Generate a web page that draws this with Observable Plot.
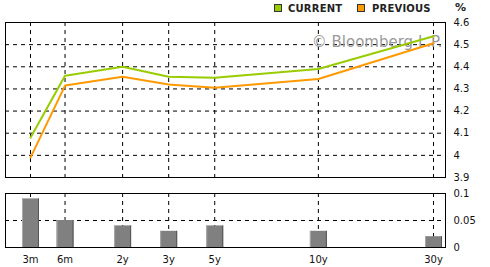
<!DOCTYPE html>
<html>
<head>
<meta charset="utf-8">
<script src="https://cdn.jsdelivr.net/npm/d3@7"></script>
<script src="https://cdn.jsdelivr.net/npm/@observablehq/plot@0.6"></script>
<style>
  html, body { margin: 0; padding: 0; background: #fff; }
  #wrap { position: relative; width: 490px; height: 267px; overflow: hidden; font-family: "DejaVu Sans", sans-serif; }
  #top, #bottom { position: absolute; left: 0; }
  #top { top: 0; }
  #bottom { top: 185px; }
  .sw { position: absolute; width: 6px; height: 6px; border: 1px solid #333; top: 4px; }
  .lg { position: absolute; top: 4px; font: bold 10px/10px "DejaVu Sans", sans-serif; color: #222; letter-spacing: 0.2px; }
  #pct { position: absolute; left: 455px; top: 2px; font: bold 11px/11px "DejaVu Sans", sans-serif; color: #222; }
</style>
</head>
<body>
<div id="wrap">
  <div id="top"></div>
  <div id="bottom"></div>
  <div class="sw" style="left:274px;background:#99cc00"></div>
  <div class="lg" style="left:288px">CURRENT</div>
  <div class="sw" style="left:357px;background:#ff9900"></div>
  <div class="lg" style="left:372px">PREVIOUS</div>
  <div id="pct">%</div>
</div>
<script>
const tenors = ["3m", "6m", "2y", "3y", "5y", "10y", "30y"];
const slots = [0, 3, 8, 12, 16, 25, 35];
const current = [4.08, 4.36, 4.40, 4.355, 4.35, 4.39, 4.538];
const previous = [3.99, 4.315, 4.355, 4.32, 4.305, 4.345, 4.506];
const change = [0.09, 0.05, 0.04, 0.03, 0.04, 0.03, 0.02];
const yTicksTop = [3.9, 4.0, 4.1, 4.2, 4.3, 4.4, 4.5, 4.6];
const yTicksBottom = [0, 0.05, 0.1];
const watermark = "© Bloomberg L.P.";

const rows = tenors.map((t, i) => ({tenor: t, slot: slots[i], current: current[i], previous: previous[i], change: change[i]}));
const xDomain = [-2.17, 36.04];
const green = "#99cc00", orange = "#ff9900";
const dash = "4,4";
const tfmt = d => { const i = slots.indexOf(d); return i >= 0 ? tenors[i] : ""; };

const topPlot = Plot.plot({
  width: 490, height: 185,
  marginLeft: 5, marginRight: 45, marginTop: 22, marginBottom: 8,
  style: {fontFamily: "DejaVu Sans, sans-serif", fontSize: "10px", color: "#111", background: "transparent", overflow: "visible"},
  x: {type: "linear", domain: xDomain, axis: null},
  y: {domain: [3.9, 4.6], axis: null},
  marks: [
    Plot.ruleY(yTicksTop.slice(1, -1), {stroke: "black", strokeDasharray: dash, strokeOpacity: 1}),
    Plot.ruleX(slots, {stroke: "black", strokeDasharray: dash, strokeOpacity: 1}),
    Plot.text([watermark], {frameAnchor: "top-right", dx: -3, dy: 14, text: d => d, fill: "#999", fontSize: 15, fontFamily: "DejaVu Sans, sans-serif"}),
    Plot.line(rows, {x: "slot", y: "previous", stroke: orange, strokeWidth: 2, strokeLinejoin: "miter"}),
    Plot.line(rows, {x: "slot", y: "current", stroke: green, strokeWidth: 2, strokeLinejoin: "miter"}),
    Plot.axisY({anchor: "right", ticks: yTicksTop, tickSize: 0, tickPadding: 8, tickFormat: d => d3.format("~g")(+d.toFixed(2)), label: null, fill: "#111"}),
    Plot.frame({stroke: "black"})
  ]
});
document.getElementById("top").append(topPlot);

const bottomPlot = Plot.plot({
  width: 490, height: 82,
  marginLeft: 5, marginRight: 45, marginTop: 8, marginBottom: 20,
  style: {fontFamily: "DejaVu Sans, sans-serif", fontSize: "10px", color: "#111", background: "transparent", overflow: "visible"},
  x: {type: "linear", domain: xDomain, axis: null},
  y: {domain: [0, 0.1], axis: null},
  marks: [
    Plot.ruleY([0.05], {stroke: "black", strokeDasharray: dash, strokeOpacity: 1}),
    Plot.ruleX(slots, {stroke: "black", strokeDasharray: dash, strokeOpacity: 1}),
    Plot.ruleX(rows, {x: "slot", y1: 0, y2: "change", stroke: "#808080", strokeWidth: 17}),
    Plot.ruleX(rows, {x: "slot", y1: 0, y2: "change", stroke: "#a8a8a8", strokeWidth: 1, dx: -8}),
    Plot.ruleX(rows, {x: "slot", y1: 0, y2: "change", stroke: "#555", strokeWidth: 1, dx: 8}),
    Plot.axisY({anchor: "right", ticks: yTicksBottom, tickSize: 0, tickPadding: 8, tickFormat: d => String(d), label: null, fill: "#111"}),
    Plot.axisX({anchor: "bottom", ticks: slots, tickSize: 0, tickPadding: 8, tickFormat: tfmt, label: null, fill: "#111"}),
    Plot.frame({stroke: "black"})
  ]
});
document.getElementById("bottom").append(bottomPlot);
</script>
</body>
</html>
